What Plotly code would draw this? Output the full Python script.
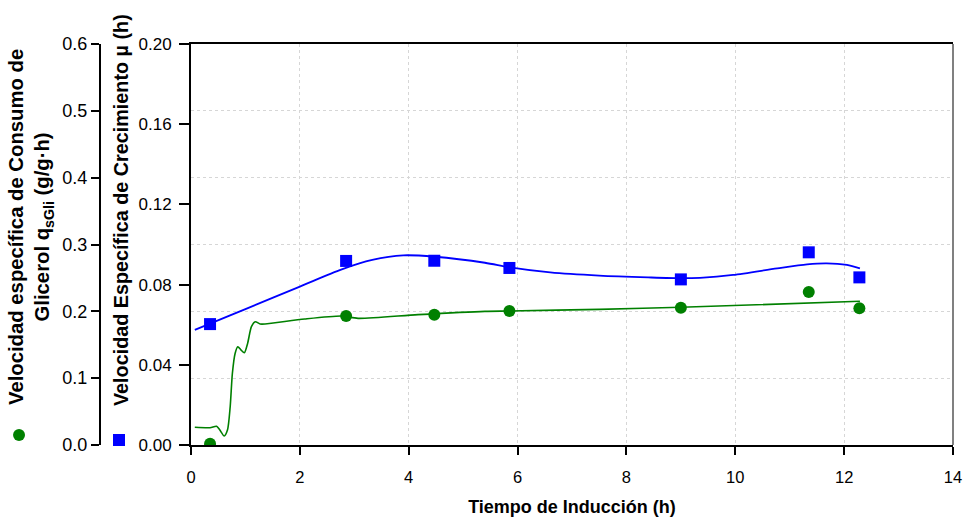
import plotly.graph_objects as go

# ---------------- data ----------------
t_obs = [0.35, 2.85, 4.47, 5.85, 9.0, 11.35, 12.28]
mu_obs = [0.0603, 0.0918, 0.0919, 0.0883, 0.0826, 0.0961, 0.0836]
qs_obs = [0.002, 0.193, 0.195, 0.2005, 0.2055, 0.229, 0.2045]

t_mu_fit = [0.07, 0.35, 1.0, 2.0, 2.77, 3.33, 3.9, 4.48, 5.4, 5.86, 6.6, 7.5,
            8.4, 9.0, 9.35, 9.96, 10.77, 11.32, 11.68, 12.05, 12.29]
mu_fit = [0.0574, 0.0605, 0.0678, 0.0790, 0.0876, 0.0923, 0.0946, 0.0939, 0.0909,
          0.0886, 0.0861, 0.0845, 0.0836, 0.0832, 0.0834, 0.0848, 0.0881, 0.0901,
          0.0906, 0.0898, 0.0881]

t_qs_fit = [0.07, 0.35, 0.47, 0.53, 0.61, 0.67, 0.72, 0.76, 0.81, 0.86, 0.92, 0.98,
            1.04, 1.11, 1.18, 1.27, 1.36, 2.09, 2.77, 3.07, 4.17, 5.4, 5.86, 7.5,
            9.0, 12.29]
qs_fit = [0.0265, 0.0259, 0.028, 0.0224, 0.0135, 0.0224, 0.0573, 0.107, 0.137,
          0.147, 0.142, 0.138, 0.152, 0.177, 0.1845, 0.181, 0.181, 0.1885, 0.193,
          0.1895, 0.195, 0.200, 0.2005, 0.203, 0.206, 0.215]

x_ticks = [0, 2, 4, 6, 8, 10, 12, 14]
mu_ticks = [0.00, 0.04, 0.08, 0.12, 0.16, 0.20]
qs_ticks = [0.0, 0.1, 0.2, 0.3, 0.4, 0.5, 0.6]

title_x = "Tiempo de Inducción (h)"
title_qs = "Velocidad específica de Consumo de<br>Glicerol q<sub>sGli</sub> (g/g·h)"
title_mu = "Velocidad Específica de Crecimiento µ (h)"

GREEN = "#008000"
BLUE = "#0000FF"
FONT = "Arial, Liberation Sans, sans-serif"
GRID = "#d6d6d6"

W, H = 965, 520
x0p, x1p, ytp, ybp = 191, 953, 44, 445

fig = go.Figure()

fig.add_trace(go.Scatter(x=t_qs_fit, y=qs_fit, mode="lines", yaxis="y2",
                         line=dict(color=GREEN, width=1.6, shape="spline", smoothing=0.7),
                         showlegend=False, hoverinfo="skip"))
fig.add_trace(go.Scatter(x=t_mu_fit, y=mu_fit, mode="lines", yaxis="y",
                         line=dict(color=BLUE, width=1.8, shape="spline", smoothing=0.8),
                         showlegend=False, hoverinfo="skip"))
fig.add_trace(go.Scatter(x=t_obs, y=qs_obs, mode="markers", yaxis="y2", name=" ",
                         marker=dict(color=GREEN, size=12, symbol="circle"),
                         legend="legend"))
fig.add_trace(go.Scatter(x=t_obs, y=mu_obs, mode="markers", yaxis="y", name=" ",
                         marker=dict(color=BLUE, size=12, symbol="square"),
                         legend="legend2"))

axis_common = dict(showline=True, linecolor="#000000", linewidth=2, ticks="outside",
                   tickcolor="#000000", tickwidth=2, zeroline=False)


def tf(size):
    return dict(family=FONT, size=size, color="#000000")


fig.update_layout(
    width=W, height=H,
    margin=dict(l=0, r=0, t=0, b=0, autoexpand=False),
    paper_bgcolor="white", plot_bgcolor="white",
    xaxis=dict(domain=[x0p / W, x1p / W], range=[0, 14], tickvals=x_ticks,
               mirror=True, ticklen=8, showgrid=True, gridcolor=GRID,
               griddash="dot", gridwidth=1, automargin=False,
               ticklabelstandoff=8, tickfont=tf(16.5),
               title=dict(text=title_x, standoff=16,
                          font=dict(family=FONT, size=18, color="#000000", weight="bold")),
               **axis_common),
    yaxis=dict(domain=[1 - ybp / H, 1 - ytp / H], range=[0, 0.2], tickvals=mu_ticks,
               tickformat=".2f", ticklen=10, showgrid=False, automargin=False,
               ticklabelstandoff=4, tickfont=tf(17), **axis_common),
    yaxis2=dict(overlaying="y", anchor="free", position=100 / W, side="left",
                range=[0, 0.6], tickvals=qs_ticks, tickformat=".1f", ticklen=8,
                showgrid=True, gridcolor=GRID, griddash="dot", gridwidth=1,
                automargin=False, tickfont=tf(18), **axis_common),
    legend=dict(x=-0.001, y=1 - 435 / H, xanchor="left", yanchor="middle",
                bgcolor="rgba(0,0,0,0)", itemwidth=30, font=dict(size=10)),
    legend2=dict(x=(121 - 22) / W, y=1 - 440 / H, xanchor="left", yanchor="middle",
                 bgcolor="rgba(0,0,0,0)", itemwidth=30, font=dict(size=10)),
    shapes=[dict(type="line", xref="x domain", yref="y domain", x0=1, x1=1, y0=0, y1=1,
                 line=dict(color="#808080", width=2))],
    annotations=[
        dict(text=title_qs, xref="paper", yref="paper", x=31 / W, y=1 - 227 / H,
             xanchor="center", yanchor="middle", textangle=-90, showarrow=False,
             font=dict(family=FONT, size=20.3, color="#000000", weight="bold")),
        dict(text=title_mu, xref="paper", yref="paper", x=121 / W, y=1 - 210 / H,
             xanchor="center", yanchor="middle", textangle=-90, showarrow=False,
             font=dict(family=FONT, size=19.8, color="#000000", weight="bold")),
    ],
)

fig.write_html("out.html", config={"displayModeBar": False},
               post_script="document.body.style.margin='0';document.body.style.overflow='hidden';")
